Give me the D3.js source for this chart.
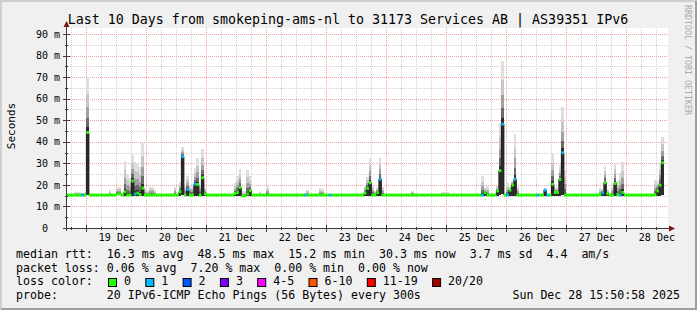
<!DOCTYPE html>
<html>
<head>
<meta charset="utf-8">
<script src="https://cdn.jsdelivr.net/npm/d3@7"></script>
<style>
  body { margin: 0; background: #f0f0f0; }
  svg { display: block; }
  text { font-family: "DejaVu Sans Mono", monospace; fill: #000; }
</style>
</head>
<body>
<svg id="chart"></svg>
<script>
// ---- data ----
const titleText = "Last 10 Days from smokeping-ams-nl to 31173 Services AB | AS39351 IPv6";
const startTime = new Date(Date.UTC(2025, 11, 18, 15, 50, 58));
const endTime = new Date(Date.UTC(2025, 11, 28, 15, 50, 58));
const firstSample = "12-18 16";
const lastSample = "12-28 14";

// quiet hours: median rtt and smoke range (ms)
const baseMedian = 15.3, baseLow = 15.0, baseHigh = 16.0;

// hourly samples that differ from the quiet level
// [hour, median ms, smoke low ms, smoke high ms, loss colour index]
const samples = [
  ["12-18 19", 15.3, 15.0, 16.6, 0],
  ["12-18 20", 15.3, 15.0, 16.6, 0],
  ["12-18 21", 15.3, 15.0, 16.6, 0],
  ["12-18 22", 15.3, 15.0, 16.4, 1],
  ["12-18 23", 15.3, 15.0, 16.6, 0],
  ["12-19 00", 44.3, 15.4, 70.0, 0],
  ["12-19 09", 15.3, 15.0, 17.6, 0],
  ["12-19 12", 15.8, 15.2, 19.2, 0],
  ["12-19 13", 15.8, 15.2, 19.2, 0],
  ["12-19 15", 16.8, 14.8, 31.2, 0],
  ["12-19 16", 15.3, 14.9, 25.0, 0],
  ["12-19 17", 15.3, 14.9, 23.0, 0],
  ["12-19 18", 21.8, 15.0, 34.0, 0],
  ["12-19 19", 15.8, 15.0, 30.8, 1],
  ["12-19 20", 16.2, 15.0, 30.0, 0],
  ["12-19 21", 15.5, 15.0, 28.4, 0],
  ["12-19 22", 18.5, 15.0, 39.6, 0],
  ["12-19 23", 15.3, 15.0, 18.0, 0],
  ["12-20 00", 15.3, 15.0, 17.5, 0],
  ["12-20 01", 15.3, 15.0, 19.2, 0],
  ["12-20 02", 15.3, 15.0, 19.0, 0],
  ["12-20 03", 15.3, 15.0, 17.6, 0],
  ["12-20 11", 15.3, 15.0, 19.0, 0],
  ["12-20 13", 16.8, 15.0, 21.5, 0],
  ["12-20 14", 33.1, 15.4, 37.7, 1],
  ["12-20 15", 15.3, 14.9, 19.0, 0],
  ["12-20 16", 17.9, 15.0, 24.1, 1],
  ["12-20 17", 15.3, 14.9, 20.0, 0],
  ["12-20 18", 15.3, 14.9, 20.0, 0],
  ["12-20 19", 20.4, 15.0, 27.7, 1],
  ["12-20 20", 20.2, 15.0, 32.3, 0],
  ["12-20 21", 15.3, 14.9, 20.0, 0],
  ["12-20 22", 23.3, 15.0, 36.5, 0],
  ["12-20 23", 15.8, 15.0, 18.5, 0],
  ["12-21 11", 16.0, 15.0, 21.0, 0],
  ["12-21 12", 16.5, 15.0, 24.0, 0],
  ["12-21 13", 18.7, 15.0, 27.4, 0],
  ["12-21 14", 14.9, 14.7, 17.0, 0],
  ["12-21 15", 14.9, 14.7, 17.0, 0],
  ["12-21 16", 15.8, 15.0, 26.9, 0],
  ["12-21 17", 17.3, 15.0, 24.0, 0],
  ["12-21 21", 15.3, 15.0, 16.6, 0],
  ["12-22 00", 15.3, 15.0, 19.5, 0],
  ["12-22 15", 15.3, 15.0, 16.0, 1],
  ["12-22 16", 15.3, 15.0, 17.7, 0],
  ["12-22 21", 15.3, 15.0, 18.4, 0],
  ["12-22 22", 15.3, 15.0, 18.0, 0],
  ["12-23 01", 15.3, 15.0, 16.0, 1],
  ["12-23 15", 16.2, 14.9, 20.0, 0],
  ["12-23 16", 18.4, 15.0, 23.8, 0],
  ["12-23 17", 21.0, 15.0, 32.6, 0],
  ["12-23 18", 15.3, 14.9, 20.0, 0],
  ["12-23 19", 15.3, 14.8, 17.0, 0],
  ["12-23 20", 16.4, 15.0, 19.0, 0],
  ["12-23 21", 22.7, 15.0, 32.6, 1],
  ["12-23 22", 15.3, 14.9, 19.0, 0],
  ["12-24 10", 15.3, 15.0, 17.3, 0],
  ["12-24 22", 15.3, 15.0, 16.7, 0],
  ["12-24 23", 15.3, 15.0, 16.7, 0],
  ["12-25 00", 15.3, 15.0, 16.7, 0],
  ["12-25 14", 15.3, 15.0, 24.1, 1],
  ["12-25 15", 16.5, 15.0, 18.5, 0],
  ["12-25 16", 15.3, 15.0, 19.3, 0],
  ["12-25 20", 17.2, 15.0, 19.5, 0],
  ["12-25 21", 26.6, 15.2, 48.6, 0],
  ["12-25 22", 48.2, 16.0, 77.6, 1],
  ["12-26 00", 15.3, 15.0, 20.8, 1],
  ["12-26 01", 17.6, 15.0, 19.0, 0],
  ["12-26 02", 19.9, 15.0, 22.0, 0],
  ["12-26 03", 22.6, 15.0, 43.6, 1],
  ["12-26 04", 15.3, 14.9, 19.0, 0],
  ["12-26 12", 15.3, 15.0, 16.0, 1],
  ["12-26 15", 17.6, 15.0, 18.6, 1],
  ["12-26 16", 15.3, 15.0, 16.0, 1],
  ["12-26 18", 20.3, 15.0, 34.3, 0],
  ["12-26 19", 16.5, 15.0, 19.0, 0],
  ["12-26 20", 16.5, 15.0, 19.0, 0],
  ["12-26 21", 22.6, 15.0, 29.2, 0],
  ["12-26 22", 34.9, 15.4, 56.3, 1],
  ["12-26 23", 15.3, 14.9, 26.9, 0],
  ["12-27 13", 15.5, 15.0, 18.4, 0],
  ["12-27 14", 16.4, 15.0, 18.0, 1],
  ["12-27 15", 21.0, 15.0, 28.8, 0],
  ["12-27 16", 15.9, 15.0, 18.0, 0],
  ["12-27 18", 15.3, 15.0, 19.0, 0],
  ["12-27 19", 20.7, 15.0, 30.0, 0],
  ["12-27 20", 15.5, 14.8, 22.0, 0],
  ["12-27 21", 15.3, 15.0, 25.4, 1],
  ["12-27 22", 16.5, 15.0, 30.8, 0],
  ["12-28 11", 15.5, 14.9, 22.3, 0],
  ["12-28 12", 17.2, 15.0, 22.0, 0],
  ["12-28 13", 19.9, 15.0, 30.0, 0],
  ["12-28 14", 30.3, 15.2, 42.4, 0]
];

const yGridValues = [0, 5, 10, 15, 20, 25, 30, 35, 40, 45, 50, 55, 60, 65, 70, 75, 80, 85, 90];
const yLabelValues = [0, 10, 20, 30, 40, 50, 60, 70, 80, 90];

const lossLabels = ["0", "1", "2", "3", "4-5", "6-10", "11-19", "20/20"];
const lossColors = ["#26ff00", "#00b8ff", "#0059ff", "#7e00ff", "#ff00ff", "#ff5500", "#ff0000", "#a10000"];

const rttStats = ["16.3 ms avg", "48.5 ms max", "15.2 ms min", "30.3 ms now", "3.7 ms sd", "4.4  am/s"];
const lossStats = ["0.06 % avg", "7.20 % max", "0.00 % min", "0.00 % now"];
const probeText = "20 IPv6-ICMP Echo Pings (56 Bytes) every 300s";
const stampText = "Sun Dec 28 15:50:58 2025";

// ---- layout ----
const width = 697, height = 310;
const plot = { left: 66, right: 666, top: 28, bottom: 228 };
const yTop = 92.8;
const charW = 7;
const keep = s => s.replace(/ /g, "\u00a0");   // keep runs of spaces

const svg = d3.select("#chart").attr("width", width).attr("height", height);

svg.append("rect").attr("width", width).attr("height", height).attr("fill", "#f0f0f0");
// rrdtool style shaded frame
svg.append("path").attr("d", `M1,${height} V1 H${width}`)
  .attr("fill", "none").attr("stroke", "#cfcfcf").attr("stroke-width", 2);
svg.append("path").attr("d", `M1,${height - 1} H${width - 1} V1`)
  .attr("fill", "none").attr("stroke", "#9e9e9e").attr("stroke-width", 2);

svg.append("rect").attr("x", plot.left).attr("y", plot.top)
  .attr("width", plot.right - plot.left + 2).attr("height", plot.bottom - plot.top)
  .attr("fill", "#fff");

const x = d3.scaleUtc().domain([startTime, endTime]).range([plot.left, plot.right]);
const y = d3.scaleLinear().domain([0, yTop]).range([plot.bottom, plot.top]);

// grid
const grid = svg.append("g").attr("shape-rendering", "crispEdges").attr("stroke-dasharray", "1,1");
const dayTicks = x.ticks(d3.utcDay);
const sixHourTicks = x.ticks(d3.utcHour.every(6)).filter(t => t.getUTCHours() !== 0);

grid.selectAll(".vminor").data(sixHourTicks).enter().append("line")
  .attr("x1", d => Math.round(x(d)) + 0.5).attr("x2", d => Math.round(x(d)) + 0.5)
  .attr("y1", plot.top).attr("y2", plot.bottom)
  .attr("stroke", "#d2d2d2");
grid.selectAll(".hminor").data(yGridValues.filter(v => v % 10 !== 0)).enter().append("line")
  .attr("x1", plot.left).attr("x2", plot.right + 2)
  .attr("y1", d => Math.round(y(d)) + 0.5).attr("y2", d => Math.round(y(d)) + 0.5)
  .attr("stroke", "#d2d2d2");
grid.selectAll(".vmajor").data(dayTicks).enter().append("line")
  .attr("x1", d => Math.round(x(d)) + 0.5).attr("x2", d => Math.round(x(d)) + 0.5)
  .attr("y1", plot.top).attr("y2", plot.bottom)
  .attr("stroke", "#f2a0a0");
grid.selectAll(".hmajor").data(yLabelValues.filter(v => v > 0)).enter().append("line")
  .attr("x1", plot.left).attr("x2", plot.right + 2)
  .attr("y1", d => Math.round(y(d)) + 0.5).attr("y2", d => Math.round(y(d)) + 0.5)
  .attr("stroke", "#f2a0a0");

// hourly series
const parseHour = d3.utcParse("%Y-%m-%d %H");
const toDate = s => parseHour("2025-" + s);
const eventMap = new Map(samples.map(d => [+toDate(d[0]), d]));
const series = d3.utcHours(toDate(firstSample), d3.utcHour.offset(toDate(lastSample), 1)).map(t => {
  const e = eventMap.get(+t);
  return e
    ? { t, med: e[1], lo: e[2], hi: e[3], loss: e[4] }
    : { t, med: baseMedian, lo: baseLow, hi: baseHigh, loss: 0 };
});
const stepEnd = t => d3.utcHour.offset(t, 1);

// smoke: light at the extremes, dark near the median
const smokeShades = [["#dedede", 1], ["#c6c6c6", 0.7], ["#a0a0a0", 0.46], ["#6a6a6a", 0.26], ["#2c2c2c", 0.1]];
const smoke = svg.append("g").attr("shape-rendering", "crispEdges");
smokeShades.forEach(([color, f]) => {
  smoke.append("g").selectAll("rect").data(series).enter().append("rect")
    .attr("x", d => x(d.t))
    .attr("width", d => x(stepEnd(d.t)) - x(d.t))
    .attr("y", d => y(d.med + f * (d.hi - d.med)))
    .attr("height", d => Math.max(0, y(d.lo) - y(d.med + f * (d.hi - d.med))))
    .attr("fill", color);
});

// thin dark median line
let medPath = "";
series.forEach((d, i) => {
  const yy = y(d.med);
  medPath += (i === 0 ? `M${x(d.t)},${yy}` : `V${yy}`) + `H${x(stepEnd(d.t))}`;
});
svg.append("path").attr("d", medPath).attr("fill", "none")
  .attr("stroke", "#202020").attr("stroke-width", 1);

// thick median coloured by loss
svg.append("g").selectAll("line").data(series).enter().append("line")
  .attr("x1", d => x(d.t)).attr("x2", d => x(stepEnd(d.t)))
  .attr("y1", d => y(d.med)).attr("y2", d => y(d.med))
  .attr("stroke", d => lossColors[d.loss]).attr("stroke-width", 3);

// axes
const axisColor = "#3a3a3a";
const ax = svg.append("g").attr("shape-rendering", "crispEdges");
ax.append("line").attr("x1", plot.left - 3).attr("x2", plot.right + 4)
  .attr("y1", plot.bottom + 0.5).attr("y2", plot.bottom + 0.5).attr("stroke", axisColor);
ax.append("line").attr("x1", plot.left + 0.5).attr("x2", plot.left + 0.5)
  .attr("y1", plot.bottom + 3).attr("y2", plot.top - 4).attr("stroke", axisColor);

ax.selectAll(".ytick").data(yGridValues).enter().append("line")
  .attr("x1", d => d % 10 === 0 ? plot.left - 3 : plot.left - 1)
  .attr("x2", d => d % 10 === 0 ? plot.left + 4 : plot.left + 2)
  .attr("y1", d => Math.round(y(d)) + 0.5).attr("y2", d => Math.round(y(d)) + 0.5)
  .attr("stroke", axisColor);
ax.selectAll(".xtick").data(sixHourTicks.concat(dayTicks)).enter().append("line")
  .attr("x1", d => Math.round(x(d)) + 0.5).attr("x2", d => Math.round(x(d)) + 0.5)
  .attr("y1", d => d.getUTCHours() === 0 ? plot.bottom - 3 : plot.bottom - 1)
  .attr("y2", d => d.getUTCHours() === 0 ? plot.bottom + 4 : plot.bottom + 2)
  .attr("stroke", axisColor);

// arrows
svg.append("path")
  .attr("d", `M${plot.left - 2.5},${plot.top - 1} L${plot.left + 0.5},${plot.top - 7} L${plot.left + 3.5},${plot.top - 1} Z`)
  .attr("fill", "#7c1515");
svg.append("path")
  .attr("d", `M${plot.right + 3},${plot.bottom - 2.5} L${plot.right + 9},${plot.bottom + 0.5} L${plot.right + 3},${plot.bottom + 3.5} Z`)
  .attr("fill", "#7c1515");

// y labels
const yAxis = d3.axisLeft(y).tickValues(yLabelValues).tickSize(0).tickPadding(6)
  .tickFormat(d => keep(d === 0 ? "0  " : d + " m"));
const yG = svg.append("g").attr("transform", `translate(${plot.left},0)`).call(yAxis);
yG.select(".domain").remove();
yG.selectAll("text").attr("font-family", "DejaVu Sans Mono").attr("font-size", 10).attr("fill", "#000");

// x labels at noon
const noonTicks = dayTicks.map(t => d3.utcHour.offset(t, 12)).filter(t => t < endTime);
const xAxis = d3.axisBottom(x).tickValues(noonTicks).tickSize(0).tickPadding(6)
  .tickFormat(d3.utcFormat("%d %b"));
const xG = svg.append("g").attr("transform", `translate(0,${plot.bottom})`).call(xAxis);
xG.select(".domain").remove();
xG.selectAll("text").attr("font-family", "DejaVu Sans Mono").attr("font-size", 10).attr("fill", "#000");

// title and side texts
svg.append("text").attr("x", 348).attr("y", 24).attr("text-anchor", "middle")
  .attr("font-size", 13.3).text(titleText);
svg.append("text").attr("transform", "translate(14.5,126) rotate(-90)")
  .attr("text-anchor", "middle").attr("font-size", 11).text("Seconds");
svg.append("text").attr("transform", "translate(684.5,60) rotate(90)")
  .attr("text-anchor", "middle").attr("font-size", 8.3).style("fill", "#a8a8a8")
  .text("RRDTOOL / TOBI OETIKER");

// legend
const legendFont = 11.6;
const legend = svg.append("g").attr("font-size", legendFont);
legend.append("text").attr("x", 16).attr("y", 258)
  .text(keep("median rtt:  " + rttStats.join("  ")));
legend.append("text").attr("x", 16).attr("y", 271.5)
  .text(keep("packet loss: " + lossStats.join("  ")));
legend.append("text").attr("x", 16).attr("y", 285).text(keep("loss color:"));
let bx = 108;
lossLabels.forEach((lab, i) => {
  legend.append("rect").attr("x", bx + 0.5).attr("y", 278.5).attr("width", 8).attr("height", 8)
    .attr("fill", lossColors[i]).attr("stroke", "#000").attr("stroke-width", 1);
  legend.append("text").attr("x", bx + 16).attr("y", 285).text(lab);
  bx += 30.3 + charW * lab.length;
});
legend.append("text").attr("x", 16).attr("y", 299).text(keep("probe:       " + probeText));
legend.append("text").attr("x", 680).attr("y", 299).attr("text-anchor", "end").text(keep(stampText));
</script>
</body>
</html>
